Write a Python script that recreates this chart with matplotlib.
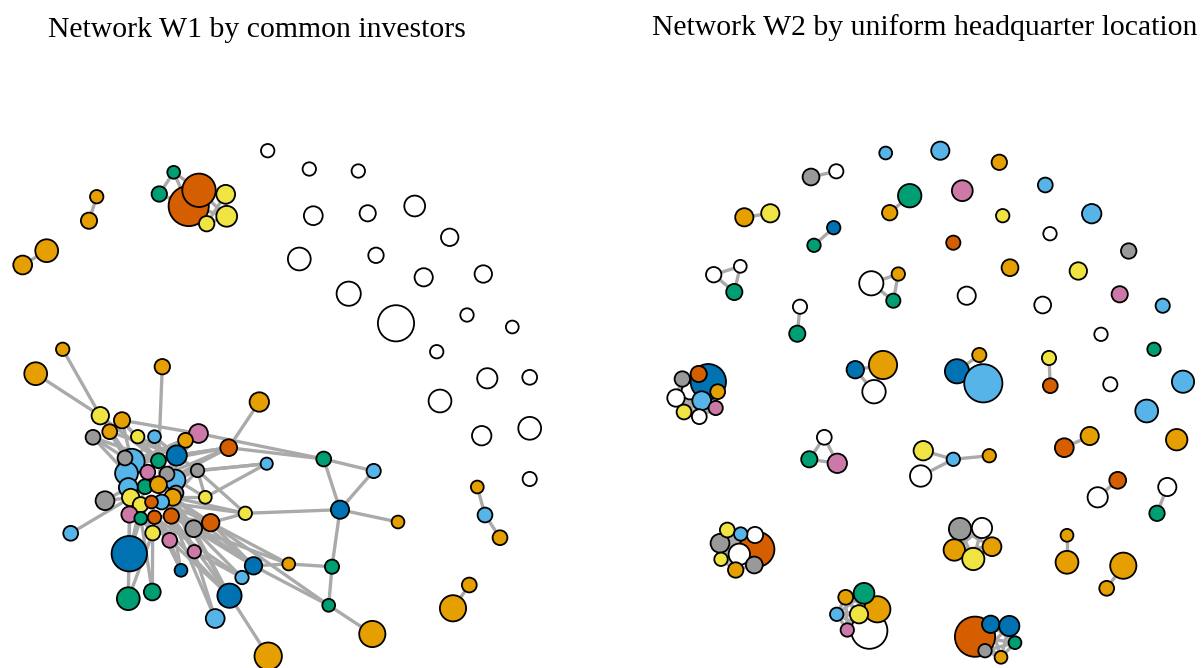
import itertools
import matplotlib.pyplot as plt
from matplotlib.patches import Circle
from matplotlib.collections import LineCollection

# colour codes used by both networks (industry groups)
palette = {"O": "#E69F00", "S": "#56B4E9", "G": "#009E73", "Y": "#F0E442",
           "B": "#0072B2", "V": "#D55E00", "P": "#CC79A7", "R": "#999999",
           "W": "#FFFFFF"}

titles = ["Network W1 by common investors",
          "Network W2 by uniform headquarter location"]

# ---------------- W1: layout positions, node sizes, groups ----------------
w1_x = [22.7, 46.7, 96.7, 89.0, 173.7, 159.3, 188.7, 199.0, 225.7, 226.7, 206.7,
        267.7, 309.3, 358.3, 313.3, 367.7, 414.7, 449.7, 299.3, 376.0, 423.7, 483.3,
        348.7, 396.0, 467.0, 512.3, 436.7, 487.3, 529.7, 440.0, 481.7, 529.7, 529.7,
        477.3, 485.0, 500.0, 469.3, 453.0,
        62.7, 35.7, 162.3, 259.3, 100.3, 122.0, 109.7, 93.0, 137.7, 154.5,
        198.5, 185.5, 228.7, 266.7, 323.7, 373.7, 340.0, 398.0, 245.3, 205.3,
        210.7, 193.7, 197.5, 70.7, 105.0, 129.3, 152.7, 169.7, 194.3, 181.0,
        253.5, 242.0, 288.7, 332.0, 328.7, 372.3, 229.5, 215.2, 268.2, 128.3, 152.3,
        131.7, 126.5, 175.0, 145.0, 128.3, 176.0, 125.0, 176.7, 158.5, 147.8,
        167.0, 158.5, 172.8, 130.7, 161.7, 140.5, 151.5, 129.5, 140.8, 154.5, 171.3]
w1_y = [265.0, 250.7, 196.7, 220.7, 172.3, 194.0, 206.0, 190.3, 194.3, 216.3, 223.7,
        150.7, 169.0, 171.0, 215.7, 213.3, 206.0, 237.3, 259.0, 255.3, 277.3, 274.0,
        293.7, 323.3, 315.0, 327.0, 351.7, 378.3, 377.3, 401.0, 435.7, 428.3, 479.0,
        487.0, 515.0, 537.7, 585.0, 608.3,
        349.3, 373.7, 366.7, 402.0, 415.7, 420.3, 431.7, 437.3, 436.7, 436.7,
        433.5, 440.3, 447.7, 463.7, 459.0, 471.0, 509.7, 522.0, 513.3, 497.3,
        522.7, 528.7, 470.5, 533.3, 500.7, 553.7, 533.0, 540.3, 551.7, 570.3,
        565.8, 577.5, 564.0, 566.7, 605.3, 634.0, 595.7, 618.5, 656.2, 598.7, 592.0,
        461.7, 473.3, 480.0, 486.7, 487.5, 493.0, 458.0, 455.5, 460.7, 472.2,
        474.0, 484.7, 497.3, 497.5, 502.0, 504.8, 502.0, 514.5, 518.3, 517.3, 516.0]
w1_size = [10, 12, 7.3, 8.7, 7, 8.3, 20.7, 17.3, 10, 11, 8.3,
           7.3, 7.3, 7.3, 10, 8.7, 11, 9.3, 12, 8.3, 9.7, 9.3,
           12.7, 18.7, 7.3, 7, 7.3, 10.7, 8, 12, 10.3, 12, 7.7,
           7, 8, 8, 8, 13.7,
           7.3, 12, 8.3, 10.3, 9.3, 8.7, 8, 8, 7.3, 7,
           10, 8, 9, 6.7, 8, 7.7, 9.7, 7, 7.3, 7,
           9.3, 9, 7.3, 8, 10, 18.3, 8, 8, 7.3, 7,
           9.3, 7.3, 7, 7.7, 7, 13.7, 12.7, 10, 14.3, 12, 9,
           13.5, 12, 11, 8, 10, 8, 8, 10.7, 8, 8,
           8, 9, 9, 9.3, 8, 8.3, 7, 8.7, 7, 7.3, 8.3]
w1_group = list("OOOOGGVVYYY"
                "WWWWWWWWWWW"
                "WWWWWWWWWWW"
                "OSOOO"
                "OOOOYOORYS"
                "POVSGSBOYY"
                "VRRSRBYPPB"
                "BSOGGOBSOGG"
                "SSSGSRRBGP"
                "ROOYSYVPGVV")
w1_edges = [(0, 1), (2, 3), (4, 5), (4, 6), (5, 6), (4, 7), (6, 7), (7, 8), (7, 9),
            (6, 10), (8, 9), (9, 10), (8, 10), (6, 9), (33, 34), (34, 35), (36, 37),
            (38, 42), (39, 42), (42, 79), (42, 85), (42, 87),
            (43, 79), (43, 87), (43, 89), (43, 48), (44, 79), (44, 86), (44, 85),
            (45, 85), (45, 80), (45, 87), (46, 87), (46, 86), (46, 89),
            (47, 87), (47, 86), (47, 79), (40, 87), (41, 50),
            (48, 86), (48, 52), (48, 89), (48, 79), (49, 86), (49, 88), (49, 80),
            (50, 52), (50, 86), (50, 89), (50, 87), (50, 79), (50, 90),
            (51, 60), (51, 57), (51, 89),
            (52, 53), (52, 54), (53, 54), (54, 55), (54, 56), (54, 71),
            (56, 58), (56, 91), (56, 60), (56, 93), (57, 91), (57, 60), (57, 89),
            (58, 99), (58, 93), (58, 91), (59, 99), (59, 91), (59, 93),
            (60, 89), (60, 86), (60, 91), (60, 81), (61, 92), (62, 83), (62, 92),
            (63, 96), (63, 97), (63, 94), (64, 97), (64, 98), (64, 94),
            (65, 98), (65, 99), (66, 99), (66, 91), (67, 65), (67, 98), (67, 99),
            (68, 58), (68, 59), (68, 99), (68, 91), (68, 70), (68, 72), (68, 93),
            (69, 59), (69, 98), (69, 66), (70, 71), (70, 59), (70, 58),
            (71, 72), (72, 73), (72, 58),
            (74, 76), (74, 59), (74, 91), (74, 99), (74, 98), (74, 65),
            (75, 66), (75, 99), (77, 96), (77, 64), (78, 97), (78, 64),
            (79, 80), (79, 85), (79, 87), (79, 88), (79, 86), (80, 83), (80, 88),
            (80, 92), (81, 86), (81, 89), (81, 90), (81, 91), (82, 88), (82, 90),
            (82, 94), (83, 92), (83, 94), (84, 91), (84, 93), (84, 90), (85, 88),
            (86, 87), (86, 89), (87, 88), (87, 90), (88, 90), (89, 90), (90, 93),
            (91, 93), (91, 99), (92, 94), (92, 96), (93, 95), (94, 95), (95, 98),
            (96, 97), (97, 98), (98, 99), (86, 90), (87, 89), (85, 83), (80, 96),
            (89, 91)]

# ---------------- W2: layout positions, node sizes, groups ----------------
w2_x = [885.7, 940.3, 999.3, 811.0, 836.3, 909.7, 889.7, 962.3, 1045.3, 744.3,
        770.3, 1002.7, 1091.7, 833.7, 814.0, 953.3, 1050.0, 1128.7, 713.7, 740.3,
        734.3, 871.3, 898.3, 893.3, 1010.0, 1078.3, 966.7, 1119.7, 1042.7, 1162.7,
        800.0, 797.3, 1101.0, 1154.0, 979.3, 957.0, 983.3, 1049.0, 1050.3, 1110.3,
        1183.0, 1146.7, 855.3, 883.0, 874.0, 690.0, 708.3, 698.7, 682.3, 676.0,
        717.7, 701.7, 715.7, 684.0, 699.3, 824.3, 809.3, 837.3, 923.3, 920.7,
        953.3, 989.3, 1064.3, 1089.7, 1176.7, 1117.7, 1097.7, 1167.3, 1157.0, 1067.0,
        1067.0, 1123.3, 1106.7, 960.0, 982.0, 954.3, 992.0, 973.3, 975.0, 990.7,
        1009.3, 1015.0, 985.0, 1001.0, 756.7, 739.3, 720.0, 755.0, 727.3, 740.7,
        721.0, 735.7, 754.3, 869.3, 877.3, 864.0, 845.7, 836.7, 859.0, 847.3]
w2_y = [153.0, 150.7, 162.3, 177.0, 171.3, 195.7, 212.7, 190.7, 185.0, 217.3,
        213.3, 215.7, 213.7, 227.7, 245.3, 242.7, 233.7, 251.0, 274.7, 266.3,
        292.0, 283.3, 274.0, 300.7, 267.7, 271.0, 295.7, 294.3, 305.0, 305.7,
        306.7, 333.7, 334.3, 349.3, 355.0, 371.3, 383.3, 358.0, 385.7, 384.3,
        381.7, 411.0, 369.7, 365.0, 391.7, 391.0, 381.7, 374.0, 379.0, 398.0,
        391.7, 400.7, 408.0, 412.0, 416.7, 437.3, 459.3, 463.3, 450.7, 476.0,
        459.3, 455.7, 447.7, 436.0, 439.7, 480.3, 497.3, 487.0, 513.3, 535.3,
        562.3, 565.7, 588.3, 529.0, 528.0, 550.0, 546.7, 559.0, 636.7, 624.3,
        626.0, 642.7, 650.7, 657.3, 549.3, 554.3, 543.3, 535.0, 530.0, 534.0,
        559.3, 570.0, 565.0, 630.7, 609.3, 593.3, 597.3, 614.3, 614.3, 630.0]
w2_size = [7, 9.7, 8.3, 9, 7.7, 12.3, 8.3, 11, 8, 9.7,
           9.7, 7.3, 10.3, 7.3, 7.3, 7.7, 7.3, 8.3, 8.3, 7,
           8.7, 12.7, 7.3, 7.7, 9, 9.3, 9.7, 8.7, 9, 7.7,
           7.7, 8.7, 7.3, 7.3, 7.7, 12.7, 19.7, 7.7, 8, 7.7,
           11.7, 12, 9.3, 14.7, 12.3, 9, 18.3, 8.7, 8.3, 9.3,
           8, 10, 7.7, 8, 8, 8, 8.7, 10.3, 10.3, 11.3,
           7.3, 7.3, 10, 9.7, 11.3, 9, 10.7, 9.7, 8.3, 7,
           12, 13.7, 8, 11.7, 10.7, 11.3, 10, 11.7, 20.7, 9.3,
           10.7, 7, 7.3, 7, 18.3, 11.3, 10, 8.7, 8, 7.3,
           7.3, 8.3, 9, 18.7, 13.7, 11, 8, 7.3, 9.7, 7.3]
w2_group = list("SSORWGOPSO"
                "YYSBGVWRWW"
                "GWOGOYWPWS"
                "WGWGOBSYVW"
                "SSBOWWBVRW"
                "OSPYWWGPYW"
                "SOVOOVWWGO"
                "OOORWOOYVB"
                "BGROVWRWYS"
                "YORWOGOSYP")
# firms sharing a headquarter location are all linked to each other
w2_locations = [[3, 4], [5, 6], [9, 10], [13, 14], [18, 19, 20], [21, 22, 23],
                [30, 31], [34, 35, 36], [37, 38], [42, 43, 44],
                list(range(45, 55)), [55, 56, 57], [62, 63], [65, 66], [67, 68],
                [69, 70], [71, 72], list(range(73, 78)), list(range(78, 84)),
                list(range(84, 93)), list(range(93, 100))]
w2_edges = [(58, 60), (59, 60), (60, 61)]
for loc in w2_locations:
    w2_edges += list(itertools.combinations(loc, 2))


def draw_network(ax, xs, ys, sizes, groups, edges):
    segs = [[(xs[a], ys[a]), (xs[b], ys[b])] for a, b in edges]
    ax.add_collection(LineCollection(segs, colors="#AAAAAA", linewidths=2.4, zorder=1))
    for x, y, s, g in zip(xs, ys, sizes, groups):
        ax.add_patch(Circle((x, y), s - 0.6, facecolor=palette[g],
                            edgecolor="black", linewidth=1.3, zorder=2))


fig = plt.figure(figsize=(12.01, 6.68), dpi=100)
ax1 = fig.add_axes([0, 0, 0.5, 1])
ax2 = fig.add_axes([0.5, 0, 0.5, 1])
ax1.set_xlim(0, 600.5)
ax2.set_xlim(600.5, 1201)
for ax in (ax1, ax2):
    ax.set_ylim(668, 0)
    ax.axis("off")

draw_network(ax1, w1_x, w1_y, w1_size, w1_group, w1_edges)
draw_network(ax2, w2_x, w2_y, w2_size, w2_group, w2_edges)

ax1.text(257, 37, titles[0], ha="center", va="baseline", fontsize=21.4,
         family="Liberation Serif", clip_on=False)
ax2.text(925, 35, titles[1], ha="center", va="baseline", fontsize=21.4,
         family="Liberation Serif", clip_on=False)

fig.savefig("out.png", dpi=100)
